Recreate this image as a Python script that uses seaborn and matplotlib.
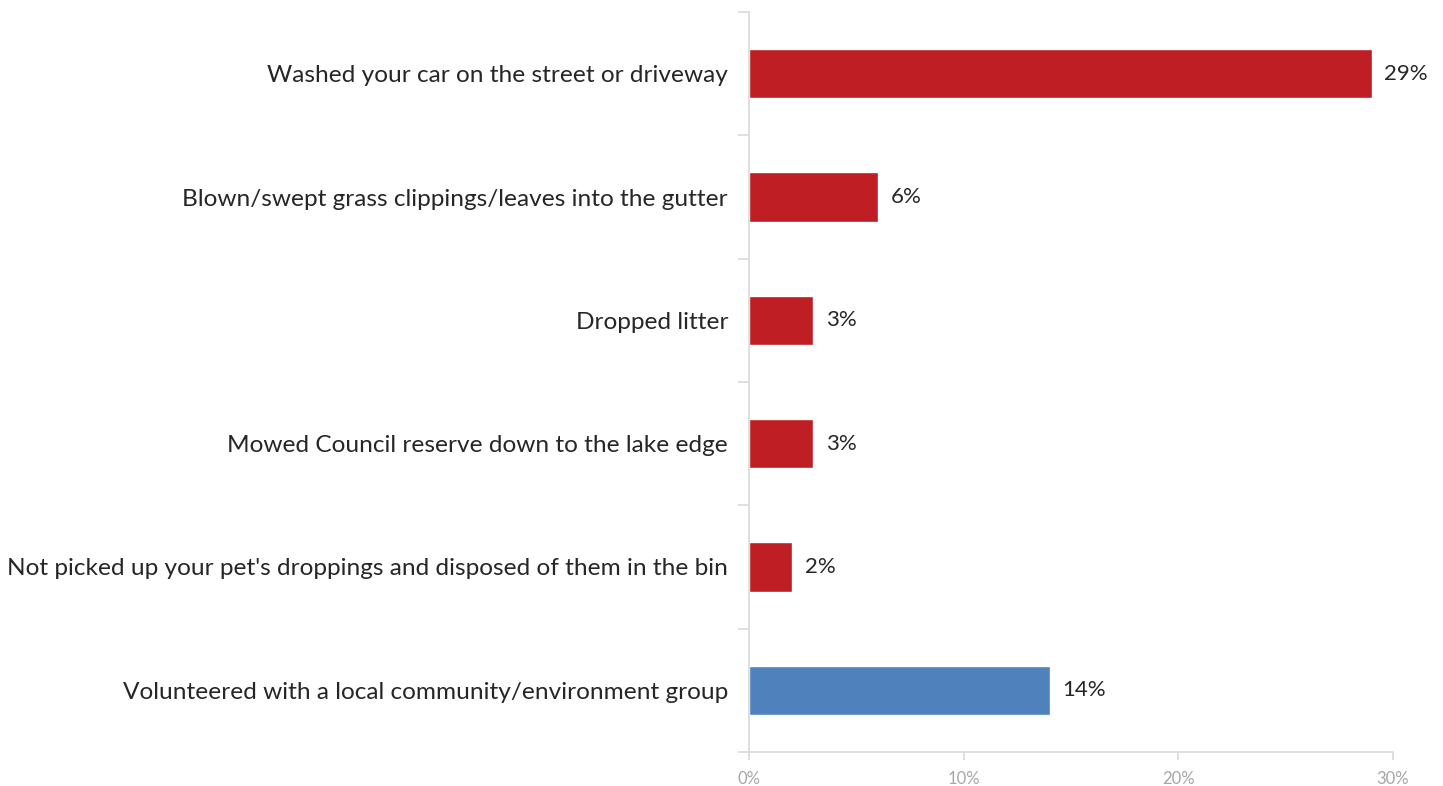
import numpy as np
import pandas as pd
import seaborn as sns
import matplotlib.pyplot as plt
from matplotlib.ticker import FixedLocator

categories = [
    "Washed your car on the street or driveway",
    "Blown/swept grass clippings/leaves into the gutter",
    "Dropped litter",
    "Mowed Council reserve down to the lake edge",
    "Not picked up your pet's droppings and disposed of them in the bin",
    "Volunteered with a local community/environment group",
]
values = [29, 6, 3, 3, 2, 14]
kind = ["bad", "bad", "bad", "bad", "bad", "good"]

df = pd.DataFrame({"activity": categories, "pct": values, "kind": kind})

sns.set_style("white")
plt.rcParams['font.family'] = ['Lato', 'DejaVu Sans']

fig = plt.figure(figsize=(14.43, 7.86), dpi=100)
ax = fig.add_axes([0.519, 0.0433, 0.4464, 0.9414])

sns.barplot(data=df, y="activity", x="pct", hue="kind",
            palette={"bad": "#BE1E24", "good": "#4F81BD"},
            width=0.4, dodge=False, legend=False, ax=ax, saturation=1)

for i, v in enumerate(values):
    ax.text(v + 0.6, i, f"{v}%", va="center", ha="left", fontsize=16, color="#262626")

ax.set_xlim(0, 30)
ax.set_ylim(5.5, -0.5)
ax.set_xticks([0, 10, 20, 30])
ax.set_xticklabels(["0%", "10%", "20%", "30%"], color="#A6A6A6", fontsize=12)
ax.set_xlabel("")
ax.set_ylabel("")
ax.tick_params(axis="y", which="major", left=True, length=0, labelsize=17.6,
               labelcolor="#262626", pad=15)
ax.yaxis.set_minor_locator(FixedLocator(np.arange(-0.5, 5.6, 1)))
ax.tick_params(axis="y", which="minor", left=True, length=8, color="#D9D9D9",
               width=1.2, direction="out")
ax.tick_params(axis="x", bottom=True, length=6, color="#D9D9D9", width=1.2,
               direction="out", pad=8)
for s in ["top", "right"]:
    ax.spines[s].set_visible(False)
for s in ["left", "bottom"]:
    ax.spines[s].set_color("#D9D9D9")
    ax.spines[s].set_linewidth(1.2)

fig.savefig("out.png", dpi=100)
